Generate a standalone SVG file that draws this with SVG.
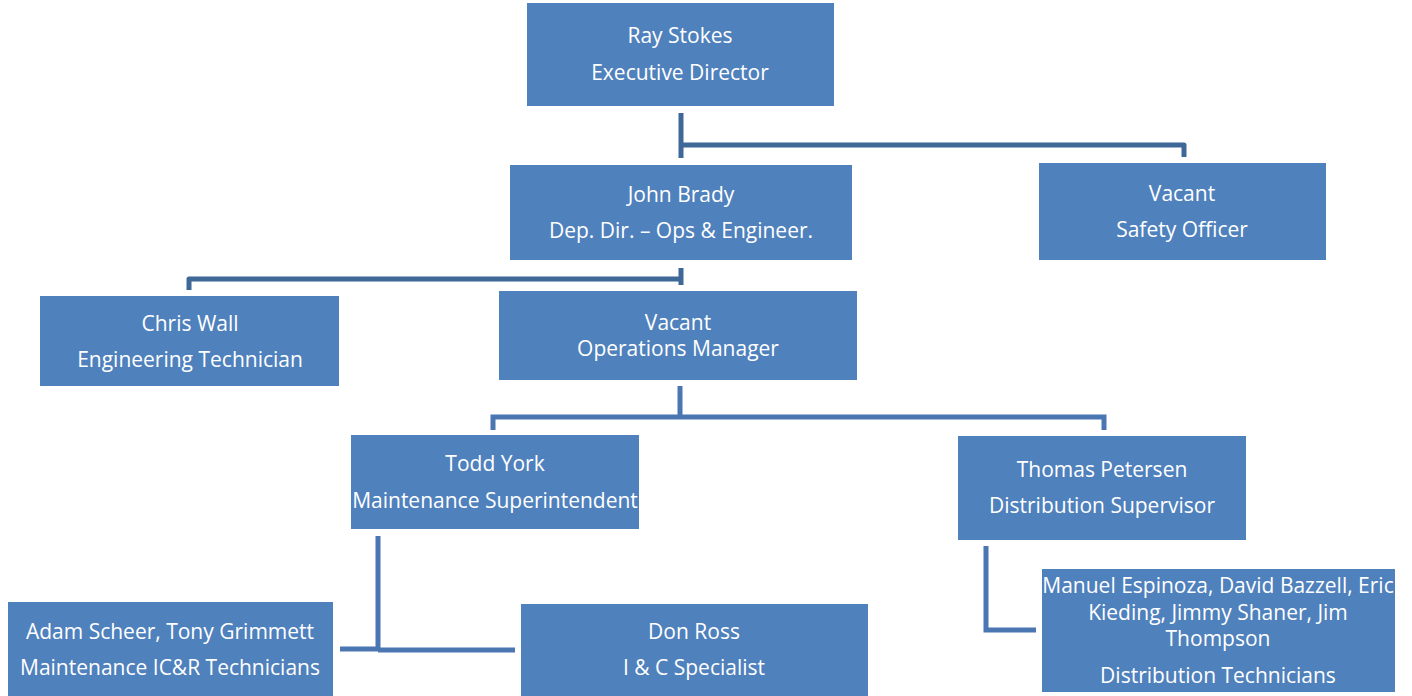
<svg xmlns="http://www.w3.org/2000/svg" width="1412" height="696" viewBox="0 0 1412 696">
<style>
.box{fill:#4F81BD;}
.t{font-family:"Open Sans","Noto Sans",sans-serif;font-size:21px;fill:#fff;text-anchor:middle;}
.c1{stroke:#3E6898;stroke-width:5;fill:none;stroke-linejoin:round;}
.c2{stroke:#4A77B2;stroke-width:5;fill:none;}
</style>
<rect width="1412" height="696" fill="#fff"/>
<g id="connectors">
<path class="c1" d="M681,113V158M681,145H1184V157"/>
<path class="c1" d="M189,290V279H681M681,268V285"/>
<path class="c2" d="M680,386V417M493,430V417H1104V430"/>
<path class="c2" d="M378,536V650M340,649H378M378,650H515"/>
<path class="c2" d="M986,546V630H1036"/>
</g>
<g id="ray"><rect class="box" x="527" y="3" width="307" height="103"/><text class="t" x="680" y="43">Ray Stokes</text><text class="t" x="680" y="80">Executive Director</text></g>
<g id="john"><rect class="box" x="510" y="165" width="342" height="95"/><text class="t" x="681" y="202">John Brady</text><text class="t" x="681" y="238">Dep. Dir. – Ops &amp; Engineer.</text></g>
<g id="safety"><rect class="box" x="1039" y="163" width="287" height="97"/><text class="t" x="1182" y="201">Vacant</text><text class="t" x="1182" y="237">Safety Officer</text></g>
<g id="chris"><rect class="box" x="40" y="296" width="299" height="90"/><text class="t" x="190" y="331">Chris Wall</text><text class="t" x="190" y="367">Engineering Technician</text></g>
<g id="opsmgr"><rect class="box" x="499" y="291" width="358" height="89"/><text class="t" x="678" y="330">Vacant</text><text class="t" x="678" y="356">Operations Manager</text></g>
<g id="todd"><rect class="box" x="351" y="435" width="288" height="94"/><text class="t" x="495" y="471">Todd York</text><text class="t" x="495" y="508">Maintenance Superintendent</text></g>
<g id="thomas"><rect class="box" x="958" y="436" width="288" height="104"/><text class="t" x="1102" y="477">Thomas Petersen</text><text class="t" x="1102" y="513">Distribution Supervisor</text></g>
<g id="manuel"><rect class="box" x="1042" y="569" width="353" height="123"/><text class="t" x="1218" y="593">Manuel Espinoza, David Bazzell, Eric</text><text class="t" x="1218" y="620">Kieding, Jimmy Shaner, Jim</text><text class="t" x="1218" y="646">Thompson</text><text class="t" x="1218" y="683">Distribution Technicians</text></g>
<g id="adam"><rect class="box" x="8" y="602" width="325" height="94"/><text class="t" x="170" y="639">Adam Scheer, Tony Grimmett</text><text class="t" x="170" y="675">Maintenance IC&amp;R Technicians</text></g>
<g id="don"><rect class="box" x="521" y="604" width="347" height="92"/><text class="t" x="694" y="639">Don Ross</text><text class="t" x="694" y="675">I &amp; C Specialist</text></g>
</svg>
